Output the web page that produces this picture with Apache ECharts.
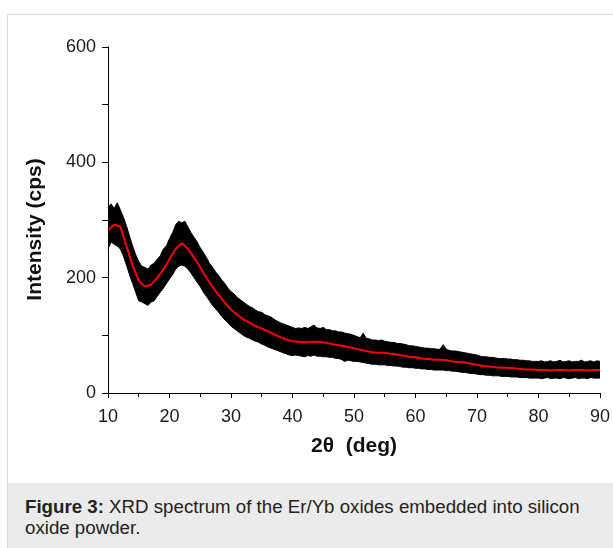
<!DOCTYPE html>
<html lang="en">
<head>
<meta charset="UTF-8">
<title>XRD spectrum</title>
<script src="https://cdn.jsdelivr.net/npm/echarts@6.0.0/dist/echarts.min.js"></script>
<style>
  body { margin: 0; width: 613px; height: 548px; overflow: hidden; background: #fff; font-family: "Liberation Sans", Arial, sans-serif; }
  #frame { position: absolute; left: 7px; top: 14px; width: 640px; height: 560px; border: 1px solid #dcdcdc; }
  #caption { position: absolute; left: 8px; top: 483px; width: 640px; height: 70px; background: #ebebeb;
             color: #222; font-size: 18.7px; line-height: 21px; padding: 13px 0 0 17px; box-sizing: border-box; }
  #main { position: absolute; left: 0; top: 0; width: 613px; height: 548px; }
</style>
</head>
<body>
<div id="frame"></div>
<div id="caption"><b>Figure 3:</b> XRD spectrum of the Er/Yb oxides embedded into silicon<br>oxide powder.</div>
<div id="main"></div>
<script>
// 2theta sampling of the noisy trace: every 0.5 deg from 10 to 90
var noiseStart = 10, noiseStep = 0.5;

// upper edge of the black (raw) trace, cps
var rawUpper = [
  322, 328, 320, 330, 318, 305, 290, 272, 255, 240,
  228, 220, 218, 215, 222, 225, 232, 238, 250, 255,
  268, 278, 292, 298, 295, 298, 288, 278, 270, 262,
  252, 244, 235, 225, 218, 210, 204, 196, 190, 182,
  176, 172, 166, 162, 158, 154, 150, 148, 144, 141,
  140, 136, 134, 132, 128, 125, 122, 120, 118, 116,
  114, 112, 113, 112, 114, 112, 115, 118, 113, 112,
  114, 110, 110, 108, 108, 106, 106, 104, 103, 102,
  100, 98, 96, 104, 95, 94, 92, 92, 91, 92,
  90, 89, 88, 88, 86, 86, 85, 84, 82, 82,
  81, 80, 79, 78, 78, 77, 77, 76, 76, 84,
  76, 74, 73, 73, 72, 71, 70, 69, 68, 67,
  66, 64, 63, 63, 62, 62, 61, 60, 60, 60,
  59, 59, 58, 58, 57, 57, 56, 56, 55, 55,
  55, 56, 54, 55, 56, 54, 55, 57, 54, 55,
  56, 54, 55, 55, 57, 54, 55, 56, 54, 56,
  55
];

// lower edge of the black (raw) trace, cps
var rawLower = [
  250, 262, 258, 255, 250, 238, 222, 205, 190, 175,
  160, 158, 155, 152, 158, 160, 168, 175, 182, 190,
  198, 205, 215, 220, 222, 220, 215, 208, 200, 192,
  185, 175, 168, 160, 152, 146, 140, 133, 127, 122,
  116, 112, 108, 104, 100, 97, 95, 92, 90, 88,
  85, 83, 80, 78, 76, 74, 72, 70, 68, 66,
  65, 66, 65, 64, 63, 65, 64, 66, 64, 64,
  63, 63, 62, 62, 60, 60, 58, 55, 57, 56,
  55, 55, 54, 53, 52, 51, 50, 50, 49, 49,
  49, 48, 48, 47, 47, 46, 45, 45, 44, 44,
  43, 43, 42, 42, 41, 41, 40, 40, 40, 40,
  39, 39, 38, 38, 37, 36, 36, 35, 34, 34,
  33, 32, 32, 31, 31, 30, 30, 30, 29, 29,
  29, 28, 28, 28, 27, 27, 27, 26, 26, 26,
  26, 25, 26, 27, 25, 26, 26, 25, 27, 26,
  25, 26, 27, 25, 26, 26, 25, 27, 26, 26,
  26
];

// smoothed (red) curve, one value per degree from 10 to 90
var smoothStart = 10;
var smoothed = [
  282, 292, 289, 255, 221, 195, 185, 188, 200, 214,
  232, 250, 260, 250, 235, 218, 200, 184, 170, 157,
  145, 136, 128, 122, 116, 112, 107, 102, 97, 93,
  90, 89, 88, 89, 89, 88, 86, 84, 82, 80,
  78, 75, 73, 71, 70, 70, 68, 67, 65, 63,
  62, 60, 59, 58, 58, 57, 55, 54, 53, 51,
  49, 47, 46, 45, 44, 44, 43, 42, 41, 41,
  40, 40, 39, 40, 40, 39, 40, 40, 39, 40,
  40
];

var yLabels = [0, 200, 400, 600];
var yTicks = [0, 100, 200, 300, 400, 500, 600];

var upData = rawUpper.map(function (v, i) { return [noiseStart + i * noiseStep, v]; });
var lowData = rawLower.map(function (v, i) { return [noiseStart + i * noiseStep, v]; });
var redData = smoothed.map(function (v, i) { return [smoothStart + i, v]; });

var chart = echarts.init(document.getElementById('main'), null, { renderer: 'canvas' });
var font = '"Liberation Sans", Arial, sans-serif';

chart.setOption({
  animation: false,
  backgroundColor: 'transparent',
  grid: { left: 108, right: 13, top: 47, bottom: 152 },
  xAxis: {
    type: 'value', min: 10, max: 90, interval: 10, z: 10,
    name: '2θ  (deg)', nameLocation: 'middle', nameGap: 40,
    nameTextStyle: { fontFamily: font, fontSize: 21, fontWeight: 'bold', color: '#111' },
    axisLine: { lineStyle: { color: '#000', width: 1 } },
    axisTick: { length: 5, lineStyle: { color: '#000' } },
    minorTick: { show: true, splitNumber: 2, length: 4, lineStyle: { color: '#000' } },
    axisLabel: { fontFamily: font, fontSize: 18, color: '#1a1a1a', margin: 12 },
    splitLine: { show: false }
  },
  yAxis: {
    type: 'value', min: -5, max: 600, z: 10,
    name: 'Intensity (cps)', nameLocation: 'middle', nameGap: 62,
    nameTextStyle: { fontFamily: font, fontSize: 21, fontWeight: 'bold', color: '#111', padding: [0, 16, 0, 0] },
    axisLine: { show: true, lineStyle: { color: '#000', width: 1 } },
    axisTick: { show: true, length: 6, customValues: yTicks, lineStyle: { color: '#000' } },
    axisLabel: { fontFamily: font, fontSize: 18, color: '#1a1a1a', margin: 12, customValues: yLabels },
    splitLine: { show: false }
  },
  series: [
    {
      name: 'raw high', type: 'line', data: upData, symbol: 'none',
      lineStyle: { color: '#000', width: 1 },
      areaStyle: { color: '#000', opacity: 1, origin: 'start' }, z: 2
    },
    {
      name: 'raw low', type: 'line', data: lowData, symbol: 'none',
      lineStyle: { color: '#000', width: 1 },
      areaStyle: { color: '#fff', opacity: 1, origin: 'start' }, z: 2
    },
    {
      name: 'smoothed', type: 'line', data: redData, symbol: 'none',
      lineStyle: { color: '#ff0000', width: 2 }, z: 3
    }
  ]
});
</script>
</body>
</html>
